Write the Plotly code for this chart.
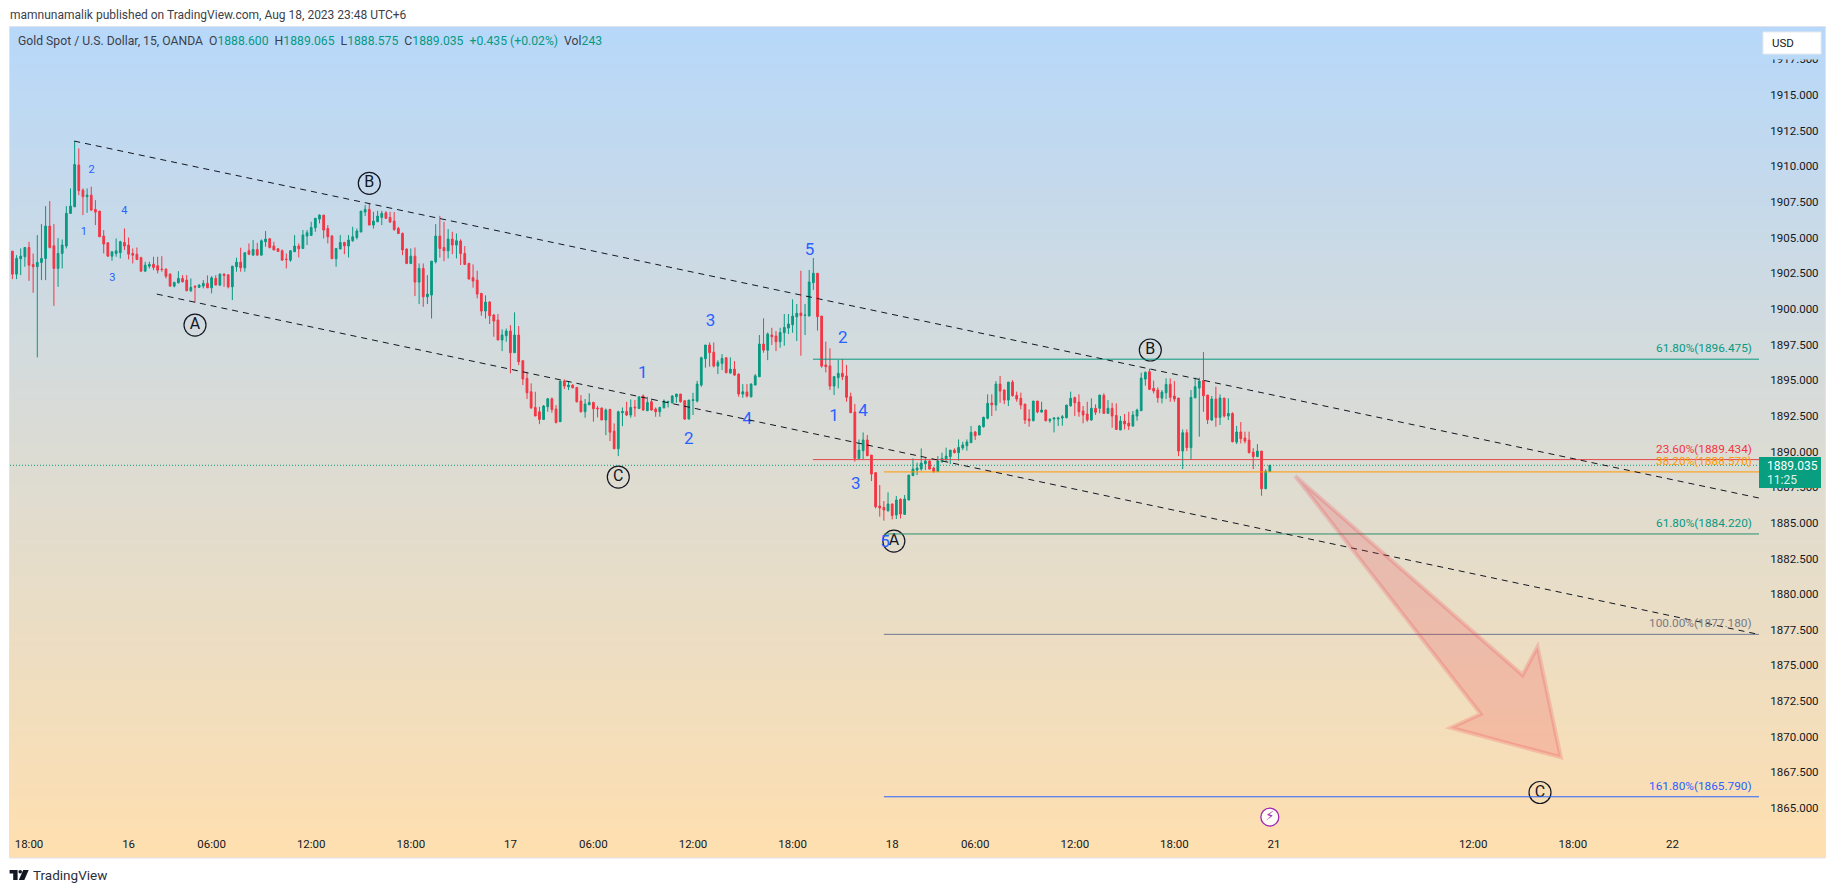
import numpy as np
import plotly.graph_objects as go

W, H = 1835, 893
FONT = "Roboto"
INK = "#131722"
GREEN = "#089981"
RED = "#F23645"
ORANGE = "#FF9800"
GREY = "#787B86"
BLUE = "#2962FF"

# --- candles: bar number 0 is Aug 15 18:00 (15-minute bars, daily break removed)
bar_numbers = list(range(-4, 300))

opens = [
1904.05,1902.44,1903.52,1903.66,1904.31,1903.12,1902.96,1903.26,1903.54,1905.81,
1904.43,1902.84,1903.89,1904.41,1906.70,1907.16,1910.09,1908.33,1907.87,1907.98,
1906.98,1906.86,1905.11,1904.64,1903.70,1903.89,1903.94,1904.66,1904.48,1903.89,
1903.84,1903.59,1902.65,1903.00,1903.14,1903.03,1902.79,1902.79,1902.44,1901.60,
1901.83,1902.14,1902.02,1901.27,1901.58,1901.51,1901.60,1901.79,1901.48,1902.14,
1901.67,1902.44,1902.39,1901.55,1902.96,1903.28,1902.89,1904.08,1903.77,1904.17,
1903.77,1904.71,1904.92,1904.41,1904.22,1904.08,1903.49,1903.42,1904.01,1904.41,
1904.24,1905.11,1905.15,1905.69,1906.30,1906.58,1905.64,1905.11,1903.52,1904.20,
1904.66,1904.41,1904.78,1905.01,1905.39,1906.79,1906.98,1905.88,1906.11,1906.42,
1906.74,1906.42,1906.16,1905.64,1905.29,1904.20,1903.19,1903.70,1901.88,1902.84,
1900.85,1900.97,1903.31,1905.11,1904.31,1904.08,1904.90,1904.48,
1904.76,1903.89,1903.19,1902.19,1902.02,1901.09,1899.85,1900.48,1899.57,1899.22,
1897.82,1898.12,1898.45,1896.93,1898.17,1896.37,1895.13,1894.19,1893.09,1892.79,
1892.25,1893.14,1893.70,1892.98,1892.09,1894.94,1894.54,1894.66,1894.50,1893.54,
1892.79,1893.28,1893.44,1893.05,1893.05,1892.21,1892.95,1891.43,1890.19,1892.72,
1892.81,1892.56,1893.12,1893.02,1893.89,1892.86,1893.49,1892.98,1892.79,1893.07,
1893.47,1893.42,1893.84,1894.03,1893.56,1892.28,1893.58,1893.54,1894.66,1896.51,
1897.47,1896.97,1895.99,1896.18,1896.58,1895.50,1895.78,1895.43,1894.03,1894.17,
1893.84,1894.66,1895.24,1897.54,1897.11,1898.17,1898.10,1897.70,1898.33,1898.66,
1898.89,1899.45,
1899.71,1899.55,1899.50,1901.84,1902.50,1899.50,1896.07,1896.00,1894.59,1895.18,1895.48,1895.30,1893.85,1892.77,
1889.52,1890.06,1890.81,1889.75,1888.52,1886.18,1886.08,1885.85,1886.32,1885.55,1886.65,1885.59,1886.60,1888.31,1888.70,
1888.77,1889.15,1889.33,1888.84,1888.59,1889.29,1889.45,1889.64,1890.10,1889.92,1890.25,1890.41,1890.62,1891.37,1891.16,
1891.74,1892.33,1893.40,1893.26,1894.73,1894.31,1893.61,1894.87,1893.94,1893.73,1893.33,1892.28,1892.16,1893.54,1892.77,
1892.91,1892.16,1892.28,1892.28,1892.35,1892.37,1893.21,1893.78,1893.47,1892.84,1892.63,1892.21,1893.03,1893.03,1893.94,1892.68,
1893.03,1892.53,1891.51,1892.14,1892.00,1891.79,1892.49,1892.86,1895.08,1895.60,1894.43,1894.31,1893.75,1894.12,1894.71,
1893.89,1893.75,1890.03,1891.32,1890.27,1893.77,1894.45,1894.97,1893.96,1892.21,1893.68,1892.39,1893.75,1892.49,1892.67,
1890.66,1891.37,1890.95,1890.80,1889.96,1889.64,1890.03,1887.39,1888.60,
]

highs = [
1904.05,1903.77,1904.24,1904.31,1904.71,1903.89,1905.18,1905.95,1907.21,1907.56,
1905.95,1904.97,1904.87,1907.21,1908.45,1911.77,1911.26,1908.45,1908.45,1908.57,
1907.63,1906.86,1905.53,1904.64,1904.01,1904.94,1904.78,1905.64,1905.01,1904.24,
1904.31,1903.66,1903.31,1903.31,1903.66,1903.66,1903.70,1902.84,1902.49,1901.90,
1902.65,1902.37,1902.37,1902.14,1901.67,1901.74,1902.02,1902.35,1902.30,1902.37,
1902.49,1902.49,1902.44,1903.00,1903.59,1904.29,1903.94,1904.59,1904.83,1904.64,
1904.87,1905.46,1904.97,1904.71,1904.24,1904.17,1903.89,1904.13,1905.18,1904.59,
1905.53,1905.53,1906.11,1906.39,1906.63,1906.58,1905.88,1905.18,1904.24,1905.18,
1904.71,1905.18,1905.76,1905.64,1906.86,1907.28,1907.40,1906.81,1906.88,1906.88,
1906.86,1906.81,1906.79,1905.76,1905.36,1904.24,1904.24,1904.31,1903.19,1903.19,
1902.37,1903.35,1905.95,1906.53,1906.11,1905.60,1905.41,1905.29,
1904.88,1904.41,1903.24,1903.12,1902.68,1901.09,1900.95,1900.55,1899.64,1899.64,
1898.56,1898.63,1898.87,1899.76,1898.80,1896.37,1895.59,1894.78,1894.19,1893.14,
1893.26,1893.75,1893.79,1893.26,1894.94,1895.06,1894.94,1894.71,1894.50,1893.96,
1893.68,1894.08,1893.49,1893.19,1893.09,1893.02,1893.00,1891.97,1892.86,1893.09,
1893.49,1893.65,1893.61,1893.84,1894.01,1893.84,1893.72,1893.09,1893.14,1893.65,
1893.56,1893.96,1894.03,1894.03,1893.61,1893.61,1894.12,1894.96,1896.65,1897.47,
1897.65,1897.65,1896.41,1896.83,1896.58,1896.60,1896.34,1895.48,1894.73,1894.73,
1894.78,1895.43,1898.17,1899.34,1898.35,1898.68,1898.45,1898.68,1899.64,1899.64,
1900.67,1900.34,
1902.68,1900.35,1902.73,1903.57,1902.50,1899.50,1897.70,1897.24,1895.30,1896.42,1896.49,1896.07,1894.13,1893.33,
1890.85,1891.34,1891.16,1889.75,1888.54,1887.65,1886.53,1887.14,1886.36,1886.88,1886.72,1886.95,1888.35,1889.52,1889.22,
1890.22,1889.57,1889.40,1888.94,1889.68,1889.92,1890.27,1890.10,1890.22,1890.85,1890.69,1890.85,1891.79,1891.44,1891.86,
1892.44,1894.01,1894.01,1894.94,1895.30,1894.36,1894.87,1895.01,1894.20,1894.13,1893.33,1892.96,1893.54,1893.54,1893.49,
1892.91,1892.33,1892.40,1892.44,1892.56,1893.26,1894.20,1893.85,1894.01,1893.19,1893.49,1893.73,1893.31,1893.96,1894.08,1893.61,
1893.42,1893.38,1892.49,1892.63,1892.79,1892.84,1893.00,1895.53,1895.62,1895.81,1894.97,1894.50,1894.31,1895.13,1895.13,
1894.94,1893.75,1891.55,1891.55,1894.31,1895.18,1895.18,1896.98,1893.96,1893.89,1894.55,1894.01,1893.75,1893.73,1892.75,
1891.79,1892.07,1891.39,1891.39,1890.24,1890.52,1890.03,1888.75,1889.065,
]

lows = [
1902.09,1902.09,1902.37,1902.96,1901.97,1901.13,1896.6,1902.02,1902.02,1904.24,
1900.22,1901.55,1902.84,1904.24,1906.70,1907.16,1907.98,1906.58,1906.74,1906.88,
1905.88,1905.06,1903.89,1903.66,1903.38,1903.66,1903.54,1904.13,1903.47,1903.19,
1903.42,1902.61,1902.61,1902.84,1902.72,1902.49,1902.61,1902.14,1901.55,1901.51,
1901.79,1901.86,1901.27,1901.20,1900.43,1901.48,1901.44,1901.48,1901.09,1901.67,
1901.60,1901.55,1901.44,1900.62,1902.61,1902.61,1902.61,1903.77,1903.77,1903.77,
1903.77,1904.36,1904.24,1904.13,1904.01,1903.42,1902.84,1903.31,1904.01,1903.61,
1904.24,1904.48,1905.15,1905.41,1906.00,1904.94,1904.59,1903.52,1902.96,1904.20,
1903.84,1903.61,1904.71,1904.87,1905.39,1906.51,1905.88,1905.64,1906.11,1905.88,
1906.35,1906.04,1905.48,1905.25,1903.77,1903.14,1903.14,1900.90,1900.34,1900.15,
1900.34,1899.33,1903.19,1903.59,1903.35,1903.54,1903.84,1903.54,
1903.08,1903.08,1902.09,1901.49,1900.74,1899.52,1899.33,1898.94,1898.05,1897.82,
1897.04,1897.70,1895.48,1896.93,1896.06,1894.66,1893.68,1892.98,1892.49,1891.92,
1892.21,1892.79,1892.72,1891.97,1892.09,1894.38,1894.31,1894.43,1893.44,1892.74,
1892.37,1893.26,1892.09,1892.39,1892.21,1891.15,1890.73,1890.19,1889.68,1891.78,
1892.49,1892.37,1892.44,1892.98,1892.86,1892.84,1892.86,1892.44,1892.44,1893.02,
1893.09,1893.37,1893.42,1893.44,1892.21,1892.25,1892.56,1893.44,1894.54,1895.88,
1895.95,1895.90,1895.43,1895.71,1895.52,1895.48,1895.31,1893.84,1893.77,1893.79,
1893.79,1894.66,1895.24,1896.93,1896.41,1897.47,1897.04,1897.28,1897.42,1898.24,
1898.33,1897.75,
1896.72,1898.17,1899.50,1901.33,1898.48,1895.88,1895.55,1894.31,1893.96,1894.43,1895.01,1893.49,1892.72,1889.29,
1889.52,1889.47,1889.68,1887.93,1886.01,1885.43,1885.15,1885.78,1885.24,1885.27,1885.31,1885.55,1886.60,1888.31,1888.35,
1888.66,1888.70,1888.75,1888.52,1888.59,1889.22,1889.29,1889.12,1889.87,1889.36,1890.10,1890.06,1890.62,1890.81,1891.16,
1891.69,1892.26,1892.49,1892.86,1893.42,1893.33,1893.19,1893.85,1893.49,1892.96,1891.93,1891.74,1892.12,1892.68,1892.72,
1892.12,1892.02,1891.34,1891.79,1891.81,1892.33,1893.14,1892.49,1892.44,1891.98,1892.09,1892.16,1892.56,1892.68,1892.63,1892.63,
1891.67,1891.51,1891.51,1891.55,1891.51,1891.74,1892.16,1892.86,1894.62,1894.31,1894.08,1893.42,1893.38,1893.68,1893.49,
1893.49,1889.68,1888.77,1890.03,1889.45,1893.73,1891.04,1892.79,1891.93,1892.14,1891.74,1891.86,1892.39,1892.21,1890.64,
1890.52,1890.57,1890.57,1889.87,1888.77,1889.64,1886.90,1887.39,1888.575,
]

closes = [
1902.44,1903.54,1903.70,1904.31,1903.07,1902.96,1903.26,1903.54,1905.81,1904.31,
1902.84,1903.89,1904.48,1906.70,1907.21,1910.13,1908.29,1907.87,1907.98,1906.93,
1906.79,1905.06,1904.55,1903.70,1904.01,1904.08,1904.71,1904.41,1903.84,1903.77,
1903.47,1902.65,1903.07,1903.12,1902.91,1902.72,1902.77,1902.30,1901.60,1901.86,
1902.14,1901.90,1901.27,1901.51,1901.53,1901.67,1901.79,1901.48,1902.18,1901.67,
1902.44,1902.35,1901.55,1903.00,1903.28,1902.89,1903.94,1903.84,1904.17,1903.77,
1904.78,1904.90,1904.31,1904.13,1904.03,1903.42,1903.47,1904.08,1904.41,1904.22,
1905.18,1905.34,1905.71,1906.35,1906.58,1905.53,1905.06,1903.52,1904.24,1904.66,
1904.43,1904.83,1905.06,1905.46,1906.86,1906.98,1905.88,1906.16,1906.51,1906.70,
1906.35,1906.09,1905.57,1905.29,1904.13,1903.19,1903.70,1901.88,1902.84,1900.85,
1901.04,1903.35,1905.11,1904.24,1904.08,1904.90,1904.48,1904.78,
1903.89,1903.12,1902.09,1901.95,1901.04,1899.85,1900.48,1899.52,1899.15,1897.82,
1898.17,1898.45,1896.93,1898.17,1896.30,1895.08,1894.12,1893.07,1892.49,1892.25,
1893.19,1893.70,1892.95,1892.04,1894.94,1894.59,1894.66,1894.47,1893.49,1892.79,
1893.33,1893.44,1893.00,1893.00,1892.21,1892.91,1891.36,1890.19,1892.79,1892.81,
1892.56,1893.09,1893.07,1893.84,1892.91,1893.44,1892.91,1892.79,1893.09,1893.54,
1893.51,1893.89,1894.03,1893.49,1892.28,1893.61,1893.63,1894.73,1896.58,1897.47,
1896.93,1895.99,1896.25,1896.53,1895.52,1895.78,1895.36,1894.03,1894.19,1893.89,
1894.73,1895.31,1897.54,1897.11,1898.24,1898.05,1897.70,1898.35,1898.70,1898.94,
1899.50,1899.69,
1899.53,1899.57,1901.89,1902.50,1899.46,1895.99,1895.95,1894.59,1895.25,1895.48,1895.25,1893.80,1892.72,1889.52,
1890.10,1890.81,1889.71,1888.42,1886.13,1886.04,1885.90,1886.32,1885.52,1886.60,1885.62,1886.67,1888.35,1888.77,1888.84,
1889.19,1889.33,1888.77,1888.59,1889.33,1889.52,1889.68,1890.10,1889.92,1890.29,1890.46,1890.67,1891.34,1891.11,1891.79,
1892.40,1893.38,1893.28,1894.73,1894.24,1893.61,1894.87,1893.92,1893.68,1893.26,1892.21,1892.16,1893.54,1892.77,1892.91,
1892.16,1892.26,1892.35,1892.35,1892.44,1893.26,1893.73,1893.42,1892.79,1892.56,1892.21,1893.03,1892.75,1893.96,1892.68,1893.03,
1892.49,1891.55,1892.14,1891.93,1891.79,1892.56,1892.91,1895.15,1895.55,1894.36,1894.24,1893.77,1894.17,1894.71,1893.80,
1893.68,1890.03,1891.32,1890.27,1893.80,1894.55,1894.94,1893.91,1892.23,1893.68,1892.39,1893.75,1892.49,1892.67,1890.69,
1891.37,1890.90,1890.73,1889.92,1889.64,1890.03,1887.39,1888.63,1889.035,
]

assert len(opens) == len(highs) == len(lows) == len(closes) == len(bar_numbers), (
    len(opens), len(highs), len(lows), len(closes), len(bar_numbers))

# --- time axis
time_tick_bars = [0, 24, 44, 68, 92, 116, 136, 160, 184, 208, 228, 252, 276, 300, 348, 372, 396]
time_tick_text = ["18:00", "16", "06:00", "12:00", "18:00", "17", "06:00", "12:00", "18:00",
                  "18", "06:00", "12:00", "18:00", "21", "12:00", "18:00", "22"]

# --- price axis
price_top, price_bottom = 1919.77, 1863.32
bar_left, bar_right = -4.578, 416.87
last_price = 1889.035

# --- fibonacci levels
fib_labels = ["61.80%(1896.475)", "23.60%(1889.434)", "38.20%(1888.570)",
              "61.80%(1884.220)", "100.00%(1877.180)", "161.80%(1865.790)"]
fib_prices = [1896.475, 1889.434, 1888.570, 1884.220, 1877.180, 1865.790]
fib_start_bars = [188.9, 188.9, 206.0, 206.0, 206.0, 206.0]
fib_colors = [GREEN, RED, ORANGE, GREEN, GREY, BLUE]
fib_line_colors = [GREEN, "#E2464F", ORANGE, "#2A8F6C", "#6F7990", BLUE]
fib_label_bar = 415.6

# --- trend lines (bars, prices)
upper_line_bars = [10.9, 416.87]
upper_line_prices = [1911.77, 1886.74]
lower_line_bars = [30.8, 416.87]
lower_line_prices = [1901.04, 1877.17]

# --- forecast arrow
arrow_bars = [305.1, 359.9, 363.5, 369.1, 342.6, 349.8]
arrow_prices = [1888.28, 1874.33, 1876.31, 1868.56, 1870.63, 1871.59]

# --- wave labels
major_wave_text = ["A", "B", "C", "A", "B", "C"]
major_wave_bars = [40.0, 82.0, 142.0, 208.4, 270.2, 364.1]
major_wave_prices = [1898.87, 1908.81, 1888.21, 1883.72, 1897.12, 1866.09]

small_wave_text = ["2", "4", "1", "3"]
small_wave_bars = [15.1, 23.0, 13.2, 20.1]
small_wave_prices = [1909.74, 1906.87, 1905.39, 1902.17]

minor_wave_text = ["1", "2", "3", "4", "5", "2", "1", "4", "3", "5"]
minor_wave_bars = [147.9, 159.0, 164.2, 173.1, 188.1, 196.1, 194.0, 201.0, 199.2, 206.3]
minor_wave_prices = [1895.47, 1890.85, 1899.09, 1892.25, 1904.10, 1897.90, 1892.41, 1892.78, 1887.69, 1883.59]

# --- header texts
published_text = "mamnunamalik published on TradingView.com, Aug 18, 2023 23:48 UTC+6"
symbol_text = "Gold Spot / U.S. Dollar, 15, OANDA"
ohlc_labels = ["O", "H", "L", "C"]
ohlc_values = ["1888.600", "1889.065", "1888.575", "1889.035"]
change_text = "+0.435 (+0.02%)"
volume_text = "243"


def fx(px):
    return px / W


def fy(py):
    return 1 - py / H


fig = go.Figure()

# gradient panel background on its own axes
grad_y = np.linspace(0, 1, 300)
fig.add_trace(go.Heatmap(
    x=[0, 1], y=grad_y, z=[[1 - v, 1 - v] for v in grad_y],
    colorscale=[[0, "#B7D8FA"], [1, "#FFDFAF"]], zmin=0, zmax=1,
    showscale=False, hoverinfo="skip", xaxis="x", yaxis="y",
))

fig.add_trace(go.Candlestick(
    x=bar_numbers, open=opens, high=highs, low=lows, close=closes,
    xaxis="x2", yaxis="y2", whiskerwidth=0,
    increasing=dict(line=dict(color=GREEN, width=1), fillcolor=GREEN),
    decreasing=dict(line=dict(color=RED, width=1), fillcolor=RED),
    showlegend=False,
))

fig.add_trace(go.Scatter(
    x=major_wave_bars, y=major_wave_prices, text=major_wave_text,
    mode="markers+text", textposition="middle center",
    marker=dict(symbol="circle-open", size=22, color=INK, line=dict(width=1.2, color=INK)),
    textfont=dict(family=FONT, size=16, color=INK),
    xaxis="x2", yaxis="y2", showlegend=False,
))
fig.add_trace(go.Scatter(
    x=small_wave_bars, y=small_wave_prices, text=small_wave_text,
    mode="text", textposition="middle center",
    textfont=dict(family=FONT, size=11, color=BLUE),
    xaxis="x2", yaxis="y2", showlegend=False,
))
fig.add_trace(go.Scatter(
    x=minor_wave_bars, y=minor_wave_prices, text=minor_wave_text,
    mode="text", textposition="middle center",
    textfont=dict(family=FONT, size=17, color=BLUE),
    xaxis="x2", yaxis="y2", showlegend=False,
))
# session-break marker
fig.add_trace(go.Scatter(
    x=[299.0], y=[1864.37], text=["\u26A1"],
    mode="markers+text", textposition="middle center",
    marker=dict(symbol="circle", size=18, color="rgba(255,255,255,0.9)", line=dict(width=1.3, color="#9C27B0")),
    textfont=dict(family="DejaVu Sans", size=13, color="#9C27B0"),
    xaxis="x2", yaxis="y2", showlegend=False,
))

shapes = []
# panel border
shapes.append(dict(type="rect", xref="paper", yref="paper", x0=fx(9.5), x1=fx(1825.5), y0=fy(858), y1=fy(26.5),
                   line=dict(color="#E0E3EB", width=1), fillcolor="rgba(0,0,0,0)", layer="above"))
# last price dotted line
shapes.append(dict(type="line", xref="x2", yref="y2", x0=bar_left, x1=bar_right, y0=last_price, y1=last_price,
                   line=dict(color=GREEN, width=1, dash="1px,2px")))
# fib lines
for price, start, colour in zip(fib_prices, fib_start_bars, fib_line_colors):
    shapes.append(dict(type="line", xref="x2", yref="y2", x0=start, x1=bar_right, y0=price, y1=price,
                       line=dict(color=colour, width=1)))
# trend lines
for bars, prices in ((upper_line_bars, upper_line_prices), (lower_line_bars, lower_line_prices)):
    shapes.append(dict(type="line", xref="x2", yref="y2", x0=bars[0], x1=bars[1], y0=prices[0], y1=prices[1],
                       line=dict(color="#131722", width=1, dash="6px,5px")))
# arrow
arrow_path = "M " + " L ".join(f"{b},{p}" for b, p in zip(arrow_bars, arrow_prices)) + " Z"
shapes.append(dict(type="path", xref="x2", yref="y2", path=arrow_path,
                   fillcolor="rgba(242,54,69,0.2)", line=dict(color="rgba(242,54,69,0.2)", width=4)))
# mask that clips the topmost price label under the USD button
shapes.append(dict(type="rect", xref="paper", yref="paper", x0=fx(1763), x1=fx(1821), y0=fy(59.5), y1=fy(53),
                   fillcolor="#B9D9F8", line=dict(width=0)))
# USD button
shapes.append(dict(type="rect", xref="paper", yref="paper", x0=fx(1763), x1=fx(1821), y0=fy(54), y1=fy(32),
                   fillcolor="white", line=dict(color="#E8EAF0", width=1)))
# last price tag
shapes.append(dict(type="rect", xref="paper", yref="paper", x0=fx(1759), x1=fx(1821), y0=fy(488), y1=fy(457),
                   fillcolor="#089E80", line=dict(width=0)))
# logo
shapes.append(dict(type="path", xref="paper", yref="paper",
                   path=(f"M {fx(9.6)},{fy(870)} L {fx(17.6)},{fy(870)} L {fx(17.6)},{fy(880)} L {fx(13.2)},{fy(880)} "
                         f"L {fx(13.2)},{fy(873.6)} L {fx(9.6)},{fy(873.6)} Z"),
                   fillcolor=INK, line=dict(width=0)))
shapes.append(dict(type="circle", xref="paper", yref="paper", x0=fx(18.4), x1=fx(22.0), y0=fy(873.6), y1=fy(870),
                   fillcolor=INK, line=dict(width=0)))
shapes.append(dict(type="path", xref="paper", yref="paper",
                   path=(f"M {fx(23.2)},{fy(870)} L {fx(28.7)},{fy(870)} L {fx(24.3)},{fy(880)} L {fx(18.8)},{fy(880)} Z"),
                   fillcolor=INK, line=dict(width=0)))

anns = []


def paper_text(text, x, y, size, color=INK, anchor="left"):
    anns.append(dict(text=text, xref="paper", yref="paper", x=fx(x), y=fy(y), xanchor=anchor, yanchor="middle",
                     showarrow=False, font=dict(family=FONT, size=size, color=color), borderpad=0, borderwidth=0))


paper_text(published_text, 10, 15, 12, "#3B3F4A")
legend = symbol_text
for lab, val in zip(ohlc_labels, ohlc_values):
    legend += f"  {lab}<span style='color:{GREEN}'>{val}</span>"
legend += f"  <span style='color:{GREEN}'>{change_text}</span>  Vol<span style='color:{GREEN}'>{volume_text}</span>"
paper_text(legend, 18, 41.5, 12.2, "#3B3F4A")
paper_text("USD", 1772, 43, 11.5, INK)
paper_text("1889.035", 1767, 466, 12, "white")
paper_text("11:25", 1767, 480, 12, "#DDF3EE")
paper_text("TradingView", 33, 875, 13.5, "#2A2E39")

for text, price, colour in zip(fib_labels, fib_prices, fib_colors):
    anns.append(dict(text=text, xref="x2", yref="y2", x=fib_label_bar, y=price, xanchor="right", yanchor="middle",
                     yshift=11, showarrow=False, font=dict(family=FONT, size=11.8, color=colour)))

fig.update_layout(
    width=W, height=H, margin=dict(l=0, r=0, t=0, b=0),
    paper_bgcolor="white", plot_bgcolor="rgba(0,0,0,0)",
    showlegend=False, boxgap=0.4,
    font=dict(family=FONT, size=11.5, color=INK),
    xaxis=dict(domain=[fx(10), fx(1825)], range=[0, 1], visible=False, fixedrange=True),
    yaxis=dict(domain=[fy(858), fy(27)], range=[0, 1], visible=False, fixedrange=True),
    xaxis2=dict(domain=[fx(10), fx(1759)], range=[bar_left, bar_right], type="linear", anchor="y2",
                tickmode="array", tickvals=time_tick_bars, ticktext=time_tick_text,
                showgrid=False, zeroline=False, showline=False, ticks="outside", ticklen=1,
                tickcolor="rgba(0,0,0,0)", tickangle=0, rangeslider=dict(visible=False),
                tickfont=dict(family=FONT, size=11.5, color=INK)),
    yaxis2=dict(domain=[fy(832), fy(27)], range=[price_bottom, price_top], type="linear", anchor="x2",
                side="right", tickmode="linear", tick0=1865, dtick=2.5, tickformat=".3f",
                showgrid=False, zeroline=False, showline=False, ticks="outside", ticklen=8,
                tickcolor="rgba(0,0,0,0)", tickfont=dict(family=FONT, size=11.5, color=INK)),
    shapes=shapes, annotations=anns,
)

fig.write_html("out.html", config={"displayModeBar": False},
               post_script="document.body.style.margin='0';document.body.style.overflow='hidden';")
